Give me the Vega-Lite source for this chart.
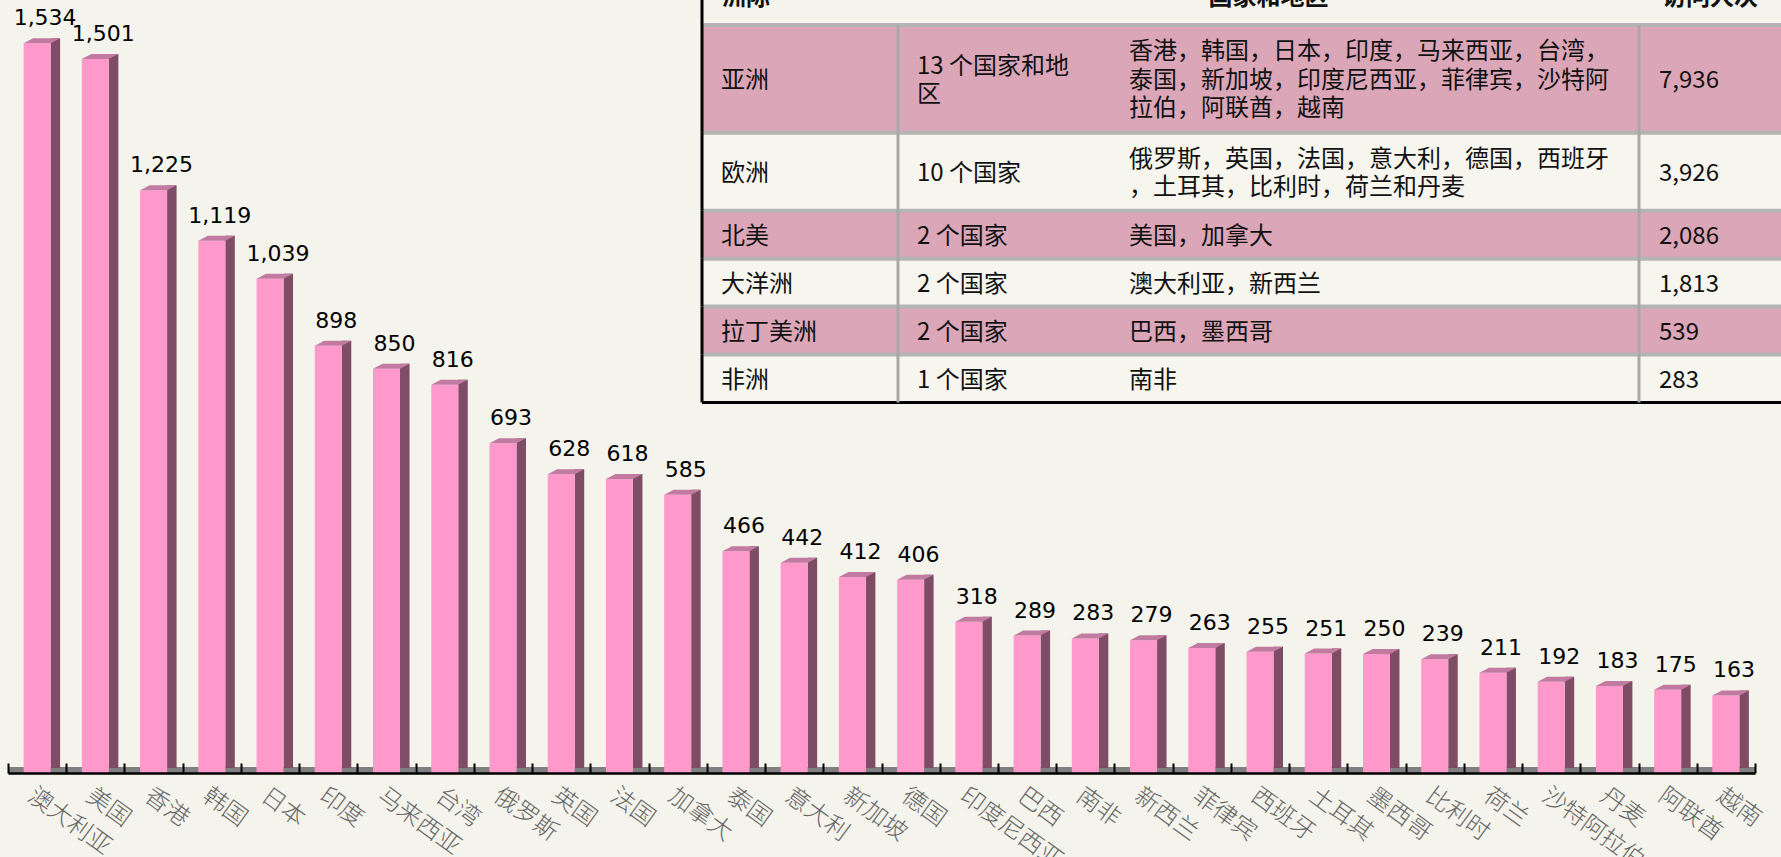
{
  "$schema": "https://vega.github.io/schema/vega-lite/v6.json",
  "autosize": {"type": "none"},
  "padding": {"left": 8, "right": 26, "top": 0, "bottom": 84},
  "width": 1747,
  "height": 773,
  "background": "#f5f4ec",
  "config": {"view": {"stroke": null}},
  "datasets": {
    "bars": [
      {"国家或地区": "澳大利亚", "访问人次": 1534},
      {"国家或地区": "美国", "访问人次": 1501},
      {"国家或地区": "香港", "访问人次": 1225},
      {"国家或地区": "韩国", "访问人次": 1119},
      {"国家或地区": "日本", "访问人次": 1039},
      {"国家或地区": "印度", "访问人次": 898},
      {"国家或地区": "马来西亚", "访问人次": 850},
      {"国家或地区": "台湾", "访问人次": 816},
      {"国家或地区": "俄罗斯", "访问人次": 693},
      {"国家或地区": "英国", "访问人次": 628},
      {"国家或地区": "法国", "访问人次": 618},
      {"国家或地区": "加拿大", "访问人次": 585},
      {"国家或地区": "泰国", "访问人次": 466},
      {"国家或地区": "意大利", "访问人次": 442},
      {"国家或地区": "新加坡", "访问人次": 412},
      {"国家或地区": "德国", "访问人次": 406},
      {"国家或地区": "印度尼西亚", "访问人次": 318},
      {"国家或地区": "巴西", "访问人次": 289},
      {"国家或地区": "南非", "访问人次": 283},
      {"国家或地区": "新西兰", "访问人次": 279},
      {"国家或地区": "菲律宾", "访问人次": 263},
      {"国家或地区": "西班牙", "访问人次": 255},
      {"国家或地区": "土耳其", "访问人次": 251},
      {"国家或地区": "墨西哥", "访问人次": 250},
      {"国家或地区": "比利时", "访问人次": 239},
      {"国家或地区": "荷兰", "访问人次": 211},
      {"国家或地区": "沙特阿拉伯", "访问人次": 192},
      {"国家或地区": "丹麦", "访问人次": 183},
      {"国家或地区": "阿联酋", "访问人次": 175},
      {"国家或地区": "越南", "访问人次": 163}
    ],
    "table": [
      {"序号": 1, "洲际": "亚洲", "数量": "13 个国家和地\n区", "国家和地区": "香港，韩国，日本，印度，马来西亚，台湾，\n泰国，新加坡，印度尼西亚，菲律宾，沙特阿\n拉伯，阿联酋，越南", "访问人次": 7936},
      {"序号": 2, "洲际": "欧洲", "数量": "10 个国家", "国家和地区": "俄罗斯，英国，法国，意大利，德国，西班牙\n，土耳其，比利时，荷兰和丹麦", "访问人次": 3926},
      {"序号": 3, "洲际": "北美", "数量": "2 个国家", "国家和地区": "美国，加拿大", "访问人次": 2086},
      {"序号": 4, "洲际": "大洋洲", "数量": "2 个国家", "国家和地区": "澳大利亚，新西兰", "访问人次": 1813},
      {"序号": 5, "洲际": "拉丁美洲", "数量": "2 个国家", "国家和地区": "巴西，墨西哥", "访问人次": 539},
      {"序号": 6, "洲际": "非洲", "数量": "1 个国家", "国家和地区": "南非", "访问人次": 283}
    ],
    "header": [
      {"洲际": "洲际", "国家和地区": "国家和地区", "访问人次": "访问人次"}
    ]
  },
  "layer": [
    {
      "data": {"name": "bars"},
      "encoding": {
        "x": {
          "field": "国家或地区", "type": "nominal", "sort": null,
          "scale": {"paddingInner": 0, "paddingOuter": 0},
          "axis": {
            "title": null, "domainColor": "#000000", "domainWidth": 2.5,
            "ticks": true, "tickColor": "#000000", "tickWidth": 2, "tickSize": -10, "tickBand": "extent",
            "labelAngle": 36, "labelAlign": "left", "labelBaseline": "middle",
            "labelFont": "Noto Sans CJK SC", "labelFontSize": 24, "labelFontWeight": 300,
            "labelColor": "#666666", "labelPadding": 30, "labelOffset": -7,
            "labelOverlap": false, "labelBound": false, "labelLimit": 0, "zindex": 1
          }
        },
        "y": {"field": "访问人次", "type": "quantitative", "scale": {"domain": [0, 1625], "nice": false, "zero": true}, "axis": null}
      },
      "layer": [
        {
          "mark": {"type": "bar", "width": {"band": 1}, "color": "#808080"},
          "encoding": {"y": {"datum": 12.6, "type": "quantitative"}, "y2": {"datum": 0}}
        },
        {
          "mark": {"type": "bar", "width": 9.5, "xOffset": 18.25, "yOffset": -5, "color": "#7f4c66"}
        },
        {
          "mark": {"type": "bar", "width": 27, "color": "#ff99cc"}
        },
        {
          "mark": {"type": "point", "shape": "M-1.35,0L1.35,0L2.3,-0.5L-0.4,-0.5Z", "size": 400, "filled": true, "color": "#c27ba0", "opacity": 1, "strokeWidth": 0}
        },
        {
          "mark": {"type": "text", "dx": 8, "dy": -18, "baseline": "alphabetic", "align": "center", "font": "DejaVu Sans", "fontSize": 22, "color": "#000000"},
          "encoding": {"text": {"field": "访问人次", "type": "quantitative", "format": ","}}
        }
      ]
    },
    {
      "data": {"name": "table"},
      "transform": [
        {"calculate": "length(split(datum['数量'], '\\n'))", "as": "数量行"},
        {"calculate": "length(split(datum['国家和地区'], '\\n'))", "as": "地区行"},
        {"calculate": "max(datum['数量行'], datum['地区行']) + 0.6", "as": "行高"},
        {"window": [{"op": "sum", "field": "行高", "as": "下沿"}], "sort": [{"field": "序号"}], "frame": [null, 0]},
        {"calculate": "datum['下沿'] - datum['行高']", "as": "上沿"},
        {"calculate": "datum['下沿'] - datum['行高'] / 2", "as": "中线"},
        {"calculate": "datum['中线'] - (datum['数量行'] - 1) * 0.4757", "as": "数量首行"},
        {"calculate": "datum['中线'] - (datum['地区行'] - 1) * 0.4757", "as": "地区首行"}
      ],
      "layer": [
        {
          "mark": {"type": "rect"},
          "encoding": {
            "x": {"datum": 694, "type": "quantitative", "scale": {"domain": [0, 1747], "nice": false, "zero": false}, "axis": null},
            "x2": {"datum": 1792},
            "y": {"field": "上沿", "type": "quantitative", "scale": {"domain": [-0.834, 24.967], "nice": false, "zero": false, "reverse": true}, "axis": null},
            "y2": {"field": "下沿"},
            "color": {"condition": {"test": "datum['序号'] % 2 == 1", "value": "#dba6b8"}, "value": "#f7f6ee"}
          }
        },
        {
          "mark": {"type": "rule", "color": "#b4b4b4", "strokeWidth": 4},
          "encoding": {
            "x": {"datum": 694, "type": "quantitative"},
            "x2": {"datum": 1792},
            "y": {"field": "上沿", "type": "quantitative"}
          }
        },
        {
          "transform": [{"filter": "datum['序号'] == 6"}],
          "mark": {"type": "rule", "color": "#000000", "strokeWidth": 3},
          "encoding": {
            "x": {"datum": 694, "type": "quantitative"},
            "x2": {"datum": 1792},
            "y": {"field": "下沿", "type": "quantitative"}
          }
        },
        {
          "mark": {"type": "rule", "color": "#a8a8a8", "strokeWidth": 3},
          "encoding": {
            "x": {"datum": 890, "type": "quantitative"},
            "y": {"field": "上沿", "type": "quantitative"},
            "y2": {"field": "下沿"}
          }
        },
        {
          "mark": {"type": "rule", "color": "#a8a8a8", "strokeWidth": 3},
          "encoding": {
            "x": {"datum": 1631, "type": "quantitative"},
            "y": {"field": "上沿", "type": "quantitative"},
            "y2": {"field": "下沿"}
          }
        },
        {
          "mark": {"type": "rule", "color": "#000000", "strokeWidth": 3},
          "encoding": {
            "x": {"datum": 694, "type": "quantitative"},
            "y": {"field": "上沿", "type": "quantitative"},
            "y2": {"field": "下沿"}
          }
        },
        {
          "mark": {"type": "text", "align": "left", "baseline": "middle", "font": "Noto Sans CJK SC", "fontSize": 24, "color": "#111111", "dy": 2},
          "encoding": {
            "x": {"datum": 713, "type": "quantitative"},
            "y": {"field": "中线", "type": "quantitative"},
            "text": {"field": "洲际", "type": "nominal"}
          }
        },
        {
          "mark": {"type": "text", "align": "left", "baseline": "middle", "font": "Noto Sans CJK SC", "fontSize": 24, "color": "#111111", "lineBreak": "\n", "lineHeight": 28.5, "dy": 2},
          "encoding": {
            "x": {"datum": 909, "type": "quantitative"},
            "y": {"field": "数量首行", "type": "quantitative"},
            "text": {"field": "数量", "type": "nominal"}
          }
        },
        {
          "mark": {"type": "text", "align": "left", "baseline": "middle", "font": "Noto Sans CJK SC", "fontSize": 24, "color": "#111111", "lineBreak": "\n", "lineHeight": 28.5, "dy": 2},
          "encoding": {
            "x": {"datum": 1121, "type": "quantitative"},
            "y": {"field": "地区首行", "type": "quantitative"},
            "text": {"field": "国家和地区", "type": "nominal"}
          }
        },
        {
          "mark": {"type": "text", "align": "left", "baseline": "middle", "font": "Noto Sans CJK SC", "fontSize": 24, "color": "#111111", "dy": 2},
          "encoding": {
            "x": {"datum": 1651, "type": "quantitative"},
            "y": {"field": "中线", "type": "quantitative"},
            "text": {"field": "访问人次", "type": "quantitative", "format": ","}
          }
        }
      ]
    },
    {
      "data": {"name": "header"},
      "layer": [
        {
          "mark": {"type": "rule", "color": "#000000", "strokeWidth": 3},
          "encoding": {
            "x": {"datum": 694, "type": "quantitative", "scale": {"domain": [0, 1747], "nice": false, "zero": false}, "axis": null},
            "y": {"datum": -1.6, "type": "quantitative", "scale": {"domain": [-0.834, 24.967], "nice": false, "zero": false, "reverse": true}, "axis": null},
            "y2": {"datum": 0}
          }
        },
        {
          "mark": {"type": "text", "align": "left", "baseline": "middle", "font": "Noto Sans CJK SC", "fontSize": 24, "fontWeight": "bold", "color": "#111111"},
          "encoding": {
            "x": {"datum": 714, "type": "quantitative"},
            "y": {"datum": -0.9, "type": "quantitative"},
            "text": {"field": "洲际", "type": "nominal"}
          }
        },
        {
          "mark": {"type": "text", "align": "center", "baseline": "middle", "font": "Noto Sans CJK SC", "fontSize": 24, "fontWeight": "bold", "color": "#111111"},
          "encoding": {
            "x": {"datum": 1260.5, "type": "quantitative"},
            "y": {"datum": -0.9, "type": "quantitative"},
            "text": {"field": "国家和地区", "type": "nominal"}
          }
        },
        {
          "mark": {"type": "text", "align": "left", "baseline": "middle", "font": "Noto Sans CJK SC", "fontSize": 24, "fontWeight": "bold", "color": "#111111"},
          "encoding": {
            "x": {"datum": 1654, "type": "quantitative"},
            "y": {"datum": -0.9, "type": "quantitative"},
            "text": {"field": "访问人次", "type": "nominal"}
          }
        }
      ]
    }
  ],
  "resolve": {"scale": {"x": "independent", "y": "independent"}, "axis": {"x": "independent", "y": "independent"}}
}
